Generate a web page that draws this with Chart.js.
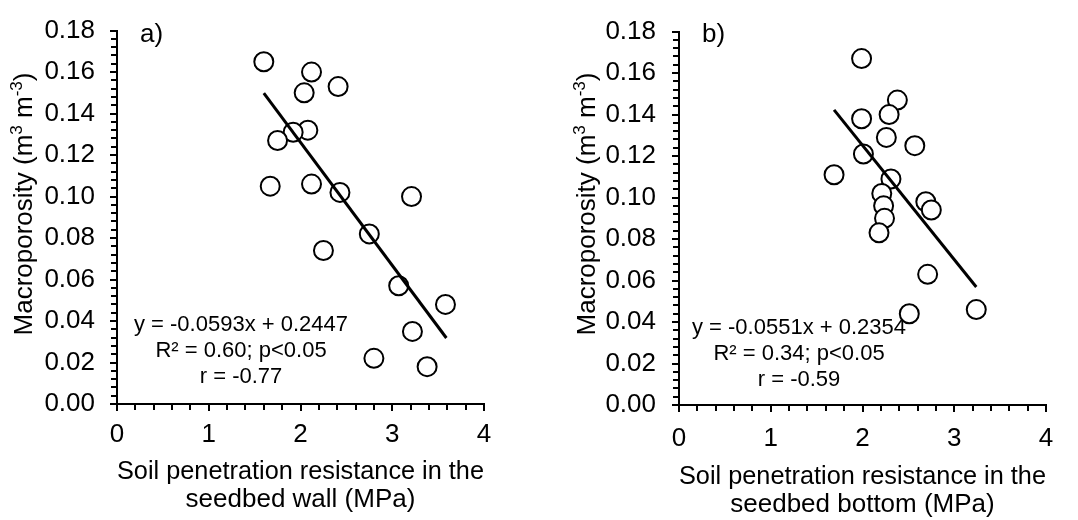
<!DOCTYPE html>
<html>
<head>
<meta charset="utf-8">
<script src="https://cdn.jsdelivr.net/npm/chart.js@4.4.1/dist/chart.umd.min.js"></script>
<style>
  body { margin: 0; background: #fff; }
  .panel { position: absolute; top: 0; width: 539px; height: 520px; }
</style>
</head>
<body>
<div class="panel" style="left:0"><canvas id="wallChart" width="539" height="520"></canvas></div>
<div class="panel" style="left:539px"><canvas id="bottomChart" width="539" height="520"></canvas></div>
<script>
// Macroporosity vs soil penetration resistance, two panels
const wallResistance = [1.60, 2.12, 2.41, 2.04, 2.08, 1.92, 1.75, 1.67, 2.12, 2.43, 3.21, 2.75, 2.25, 3.07, 3.58, 3.22, 2.80, 3.38];
const wallMacroporosity = [0.165, 0.160, 0.153, 0.150, 0.132, 0.131, 0.127, 0.105, 0.106, 0.102, 0.100, 0.082, 0.074, 0.057, 0.048, 0.035, 0.022, 0.018];

const bottomResistance = [1.99, 2.38, 1.99, 2.29, 2.26, 2.57, 2.01, 1.69, 2.31, 2.21, 2.69, 2.75, 2.23, 2.24, 2.18, 2.71, 2.51, 3.24];
const bottomMacroporosity = [0.167, 0.147, 0.138, 0.140, 0.129, 0.125, 0.121, 0.111, 0.109, 0.102, 0.098, 0.094, 0.096, 0.090, 0.083, 0.063, 0.044, 0.046];

// fitted lines: y = slope * x + intercept, drawn over the range of x
const fitSlope = [-0.0593, -0.0551];
const fitIntercept = [0.2447, 0.2354];
const fitRange = [[1.60, 3.59], [1.69, 3.24]];

const panelLabels = ['a)', 'b)'];
const xTitles = [
  ['Soil penetration resistance in the', 'seedbed wall (MPa)'],
  ['Soil penetration resistance in the', 'seedbed bottom (MPa)']
];
const statsText = [
  ['y = -0.0593x + 0.2447', 'R\u00B2 = 0.60; p<0.05', 'r = -0.77'],
  ['y = -0.0551x + 0.2354', 'R\u00B2 = 0.34; p<0.05', 'r = -0.59']
];

Chart.defaults.font.family = '"Liberation Sans", Arial, sans-serif';
Chart.defaults.color = '#000';

// y title with superscripts, minor ticks, panel label and stats text
const extrasPlugin = {
  id: 'extras',
  afterDraw(chart) {
    const o = chart.options.plugins.extras;
    const ctx = chart.ctx;
    const area = chart.chartArea;
    const xs = chart.scales.x, ys = chart.scales.y;
    ctx.save();
    ctx.strokeStyle = '#000';
    ctx.lineWidth = 2;
    ctx.beginPath();
    for (let i = 0; i <= 20; i++) {
      if (i % 5 === 0) continue;
      const px = Math.round(xs.getPixelForValue(i * 0.2));
      ctx.moveTo(px, area.bottom);
      ctx.lineTo(px, area.bottom + 6);
    }
    for (let i = 0; i <= 45; i++) {
      if (i % 5 === 0) continue;
      const py = Math.round(ys.getPixelForValue(i * 0.004));
      ctx.moveTo(area.left - 6, py);
      ctx.lineTo(area.left, py);
    }
    ctx.stroke();

    // panel label
    ctx.fillStyle = '#000';
    ctx.font = '26px "Liberation Sans", Arial, sans-serif';
    ctx.textAlign = 'left';
    ctx.textBaseline = 'middle';
    ctx.fillText(o.label, area.left + 23, 35);

    // regression stats
    ctx.font = '22px "Liberation Sans", Arial, sans-serif';
    ctx.textAlign = 'center';
    o.stats.forEach((t, i) => {
      ctx.fillText(t, area.left + o.statsX, area.bottom - o.statsY + i * 26);
    });

    // y axis title, rotated, with superscripts
    const parts = [
      { t: 'Macroporosity (m', sup: false },
      { t: '3', sup: true },
      { t: ' m', sup: false },
      { t: '-3', sup: true },
      { t: ')', sup: false }
    ];
    const big = '26px "Liberation Sans", Arial, sans-serif';
    const small = '17px "Liberation Sans", Arial, sans-serif';
    let total = 0;
    parts.forEach(p => { ctx.font = p.sup ? small : big; p.w = ctx.measureText(p.t).width; total += p.w; });
    ctx.translate(area.left - o.yTitleOffset, o.yTitleCenter);
    ctx.rotate(-Math.PI / 2);
    ctx.textAlign = 'left';
    ctx.textBaseline = 'alphabetic';
    let cx = -total / 2;
    parts.forEach(p => {
      ctx.font = p.sup ? small : big;
      ctx.fillText(p.t, cx, p.sup ? -1 : 9);
      cx += p.w;
    });
    ctx.restore();
  }
};

function makeChart(id, idx, xs, ys, cfg) {
  const points = xs.map((x, i) => ({ x: x, y: ys[i] }));
  const fit = fitRange[idx].map(x => ({ x: x, y: fitSlope[idx] * x + fitIntercept[idx] }));
  return new Chart(document.getElementById(id), {
    type: 'scatter',
    data: {
      datasets: [
        {
          type: 'line',
          data: fit,
          borderColor: '#000',
          borderWidth: 3,
          pointRadius: 0,
          fill: false,
          order: 0
        },
        {
          data: points,
          pointStyle: 'circle',
          pointRadius: 9.5,
          pointBorderWidth: 2,
          pointBorderColor: '#000',
          pointBackgroundColor: '#fff',
          order: 1
        }
      ]
    },
    options: {
      responsive: false,
      animation: false,
      devicePixelRatio: 1,
      layout: { padding: { left: 0, top: 25, right: cfg.padRight, bottom: 0 } },
      plugins: {
        legend: { display: false },
        tooltip: { enabled: false },
        extras: {
          label: panelLabels[idx],
          stats: statsText[idx],
          statsX: cfg.statsX,
          statsY: cfg.statsY,
          yTitleOffset: cfg.yTitleOffset,
          yTitleCenter: 204
        }
      },
      scales: {
        x: {
          type: 'linear',
          min: 0,
          max: 4,
          afterFit: s => { s.height = cfg.xHeight; },
          ticks: { stepSize: 1, padding: cfg.xTickPad, font: { size: 26 }, maxRotation: 0 },
          grid: { drawOnChartArea: false, drawTicks: true, tickLength: 7, color: '#000', lineWidth: 2 },
          border: { display: true, color: '#000', width: 2 },
          title: {
            display: true,
            text: xTitles[idx],
            font: { size: 26, lineHeight: 1.1 },
            padding: { top: 0, bottom: cfg.xTitlePad }
          }
        },
        y: {
          type: 'linear',
          min: 0,
          max: 0.18,
          afterFit: s => { s.width = cfg.yWidth; },
          ticks: { stepSize: 0.02, padding: cfg.yTickPad, font: { size: 26 }, callback: v => v.toFixed(2) },
          grid: { drawOnChartArea: false, drawTicks: true, tickLength: 7, color: '#000', lineWidth: 2 },
          border: { display: true, color: '#000', width: 2 }
        }
      }
    },
    plugins: [extrasPlugin]
  });
}

makeChart('wallChart', 0, wallResistance, wallMacroporosity, {
  padRight: 55, yWidth: 117, xHeight: 116, xTickPad: 8.5, yTickPad: 15, xTitlePad: 5.5,
  statsX: 124, statsY: 79, yTitleOffset: 94
});
makeChart('bottomChart', 1, bottomResistance, bottomMacroporosity, {
  padRight: 32, yWidth: 140, xHeight: 115, xTickPad: 11, yTickPad: 16, xTitlePad: 0.5,
  statsX: 120, statsY: 77, yTitleOffset: 93
});
</script>
</body>
</html>
